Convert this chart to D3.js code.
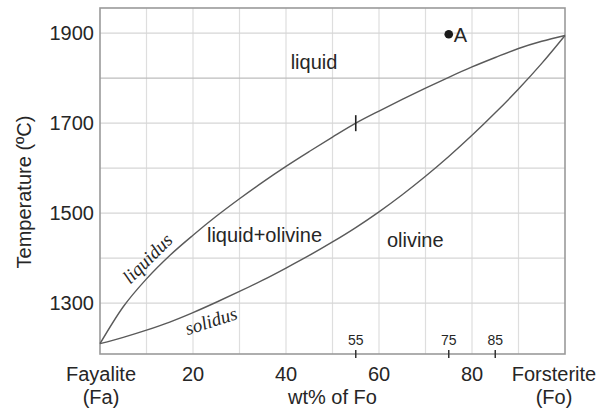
<!DOCTYPE html>
<html>
<head>
<meta charset="utf-8">
<script src="https://cdn.jsdelivr.net/npm/d3@7"></script>
<style>
  html, body { margin: 0; padding: 0; background: #fff; }
  svg { display: block; }
  text { font-family: "Liberation Sans", Arial, sans-serif; fill: #262626; }
</style>
</head>
<body>
<svg id="chart" width="601" height="413"></svg>
<script>
// ---- data ----
const composition = [0, 5, 10, 15, 20, 25, 30, 35, 40, 45, 50, 55, 60, 65, 70, 75, 80, 85, 90, 95, 100]; // wt% Fo
const liquidusT = [1210, 1292, 1354, 1406, 1451, 1493, 1532, 1569, 1604, 1637, 1669, 1700, 1727, 1753, 1778, 1802, 1825, 1846, 1866, 1882, 1895];
const solidusT  = [1210, 1224, 1240, 1258, 1279, 1302, 1326, 1351, 1378, 1406, 1436, 1468, 1503, 1541, 1582, 1626, 1673, 1723, 1776, 1833, 1895];
const yTicks = [1300, 1500, 1700, 1900];
const yGrid = [1300, 1400, 1500, 1600, 1700, 1800, 1900];
const xGrid = [10, 20, 30, 40, 50, 60, 70, 80, 90];
const xTickValues = [20, 40, 60, 80];
const xTickLabels = ["20", "40", "60", "80"];
const markTicks = [55, 75, 85];
const pointA = { x: 75, t: 1900, label: "A" };
const liquidusMark = { x: 55, t: 1700 };
const regionLabels = [
  { text: "liquid", x: 41, t: 1820 },
  { text: "liquid+olivine", x: 23, t: 1436 },
  { text: "olivine", x: 61.7, t: 1425 }
];

// ---- scales ----
const svg = d3.select("#chart");
const x = d3.scaleLinear().domain([0, 100]).range([100, 565]);
const y = d3.scaleLinear().domain([1187, 1956]).range([354, 8]);

// ---- grid ----
svg.append("g").selectAll("line").data(xGrid).join("line")
  .attr("x1", d => x(d)).attr("x2", d => x(d))
  .attr("y1", y.range()[1]).attr("y2", y.range()[0])
  .attr("stroke", "#dedede").attr("stroke-width", 1.2);
svg.append("g").selectAll("line").data(yGrid).join("line")
  .attr("x1", x.range()[0]).attr("x2", x.range()[1])
  .attr("y1", d => y(d)).attr("y2", d => y(d))
  .attr("stroke", d => d === 1800 ? "#bdbdbd" : "#d6d6d6").attr("stroke-width", 1.2);

// frame
svg.append("rect")
  .attr("x", x.range()[0]).attr("y", y.range()[1])
  .attr("width", x.range()[1] - x.range()[0]).attr("height", y.range()[0] - y.range()[1])
  .attr("fill", "none").attr("stroke", "#9a9a9a").attr("stroke-width", 1.6);

// ---- curves ----
const line = d3.line().x(d => x(d[0])).y(d => y(d[1])).curve(d3.curveMonotoneX);
svg.append("path").datum(composition.map((c, i) => [c, liquidusT[i]]))
  .attr("d", line).attr("fill", "none").attr("stroke", "#5a5a5a").attr("stroke-width", 1.4);
svg.append("path").datum(composition.map((c, i) => [c, solidusT[i]]))
  .attr("d", line).attr("fill", "none").attr("stroke", "#5a5a5a").attr("stroke-width", 1.4);

// mark on liquidus
svg.append("line")
  .attr("x1", x(liquidusMark.x)).attr("x2", x(liquidusMark.x))
  .attr("y1", y(liquidusMark.t) - 8).attr("y2", y(liquidusMark.t) + 8)
  .attr("stroke", "#222").attr("stroke-width", 1.6);

// point A
svg.append("circle").attr("cx", x(pointA.x)).attr("cy", y(pointA.t) + 1).attr("r", 4.3).attr("fill", "#1a1a1a");
svg.append("text").attr("x", x(pointA.x) + 5).attr("y", y(pointA.t) + 9)
  .attr("font-size", 20).text(pointA.label);

// region labels
svg.append("g").selectAll("text").data(regionLabels).join("text")
  .attr("x", d => x(d.x)).attr("y", d => y(d.t))
  .attr("font-size", 20).text(d => d.text);

// curve labels
svg.append("text")
  .attr("transform", "translate(152,263) rotate(-45)")
  .attr("text-anchor", "middle")
  .style("font-family", "'Liberation Serif', 'Times New Roman', serif")
  .style("font-style", "italic").attr("font-size", 19).text("liquidus");
svg.append("text")
  .attr("transform", "translate(213,327) rotate(-18)")
  .attr("text-anchor", "middle")
  .style("font-family", "'Liberation Serif', 'Times New Roman', serif")
  .style("font-style", "italic").attr("font-size", 19).text("solidus");

// ---- y axis labels ----
svg.append("g").selectAll("text").data(yTicks).join("text")
  .attr("x", 94).attr("y", d => y(d) + 7)
  .attr("text-anchor", "end").attr("font-size", 20).text(d => d);
svg.append("text")
  .attr("transform", "translate(31,192) rotate(-90)")
  .attr("text-anchor", "middle").attr("font-size", 20).text("Temperature (ºC)");

// ---- x axis labels ----
svg.append("g").selectAll("text").data(xTickValues).join("text")
  .attr("x", d => x(d)).attr("y", 381)
  .attr("text-anchor", "middle").attr("font-size", 20).text((d, i) => xTickLabels[i]);
const endLabels = [
  { lines: ["Fayalite", "(Fa)"], x: 101 },
  { lines: ["Forsterite", "(Fo)"], x: 554 }
];
endLabels.forEach(l => {
  l.lines.forEach((s, i) => {
    svg.append("text").attr("x", l.x).attr("y", 381 + i * 23)
      .attr("text-anchor", "middle").attr("font-size", 20).text(s);
  });
});
svg.append("text").attr("x", x(50)).attr("y", 404)
  .attr("text-anchor", "middle").attr("font-size", 20).text("wt% of Fo");

// small marker ticks
svg.append("g").selectAll("line").data(markTicks).join("line")
  .attr("x1", d => x(d)).attr("x2", d => x(d))
  .attr("y1", y.range()[0] - 4).attr("y2", y.range()[0] + 4)
  .attr("stroke", "#333").attr("stroke-width", 1.5);
svg.append("g").selectAll("text").data(markTicks).join("text")
  .attr("x", d => x(d)).attr("y", 345)
  .attr("text-anchor", "middle").attr("font-size", 14).text(d => d);
</script>
</body>
</html>
